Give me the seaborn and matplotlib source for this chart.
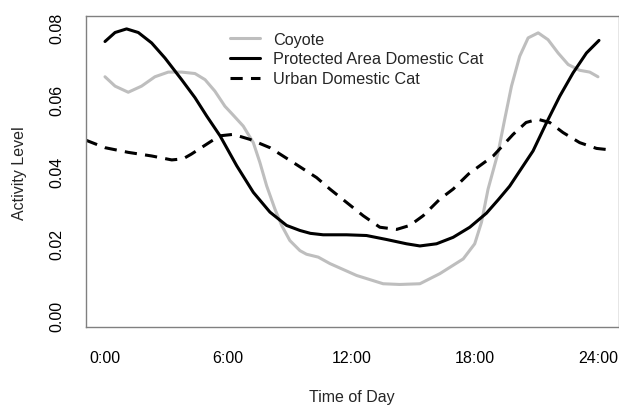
import matplotlib
matplotlib.use('Agg')
import matplotlib.pyplot as plt
import seaborn as sns

# 数据
coyote_h = [0, 0.49, 1.13, 1.78, 2.43, 3.08, 3.73, 4.38, 4.87, 5.35, 5.84, 6.2, 6.73, 7.22,
            7.54, 7.87, 8.27, 8.6, 9.0, 9.49, 9.81, 10.38, 10.95, 12.25, 13.54, 14.35, 15.33,
            16.3, 17.44, 18.0, 18.33, 18.65, 19.14, 19.46, 19.79, 20.19, 20.6, 21.09, 21.57,
            22.06, 22.55, 23.11, 23.6, 24.0]
coyote_v = [0.0664, 0.0638, 0.0621, 0.0638, 0.0664, 0.0677, 0.0677, 0.0673, 0.0656, 0.0624,
            0.0582, 0.0560, 0.0527, 0.0481, 0.0426, 0.0361, 0.0297, 0.0251, 0.0209, 0.0181,
            0.0171, 0.0163, 0.0145, 0.0112, 0.0089, 0.0087, 0.0089, 0.0117, 0.0158, 0.0200,
            0.0260, 0.0352, 0.0454, 0.0546, 0.0638, 0.0721, 0.0772, 0.0786, 0.0767, 0.0730,
            0.0698, 0.0682, 0.0677, 0.0664]

protected_h = [0, 0.49, 1.05, 1.62, 2.27, 2.92, 3.73, 4.38, 4.95, 5.6, 6.41, 7.22, 8.03, 8.84,
               9.49, 10.0, 10.62, 11.76, 12.73, 13.7, 14.68, 15.33, 16.14, 16.95, 17.76, 18.57,
               19.14, 19.7, 20.2, 20.84, 21.5, 22.14, 22.79, 23.44, 24.05]
protected_v = [0.0762, 0.0787, 0.0797, 0.0787, 0.0758, 0.0716, 0.0656, 0.0606, 0.0555, 0.0500,
               0.0417, 0.0343, 0.0288, 0.0251, 0.0237, 0.0229, 0.0225, 0.0225, 0.0223, 0.0212,
               0.0200, 0.0194, 0.0200, 0.0218, 0.0246, 0.0285, 0.0322, 0.0360, 0.0403, 0.0458,
               0.0537, 0.0610, 0.0675, 0.0730, 0.0765]

urban_h = [-0.94, 0, 1.13, 2.27, 3.25, 3.8, 4.2, 5.2, 5.6, 6.24, 7.06, 8.03, 9.16, 10.3, 10.95,
           11.76, 12.57, 13.38, 14.2, 14.84, 15.49, 16.3, 16.95, 17.7, 18.9, 19.87, 20.5, 21.07,
           21.65, 22.3, 23.11, 23.93, 24.57]
urban_v = [0.0488, 0.0467, 0.0454, 0.0444, 0.0433, 0.0436, 0.0449, 0.0486, 0.0500, 0.0504,
           0.0490, 0.0467, 0.0426, 0.0384, 0.0352, 0.0315, 0.0278, 0.0246, 0.0240, 0.0251,
           0.0278, 0.0324, 0.0352, 0.0394, 0.0444, 0.0504, 0.0537, 0.0546, 0.0537, 0.0509,
           0.0481, 0.0465, 0.0461]

x_ticks = [0, 6, 12, 18, 24]
x_labels = ['0:00', '6:00', '12:00', '18:00', '24:00']
y_ticks = [0.00, 0.02, 0.04, 0.06, 0.08]
y_labels = ['0.00', '0.02', '0.04', '0.06', '0.08']

sns.set_style('white')
plt.rcParams['font.family'] = ['Liberation Sans', 'DejaVu Sans']

fig = plt.figure(figsize=(6.19, 4.06), dpi=100)
ax = fig.add_axes([85.7 / 619, (406 - 328.3) / 406, (618.5 - 85.7) / 619, (328.3 - 17.3) / 406])

sns.lineplot(x=coyote_h, y=coyote_v, ax=ax, color='#BEBEBE', lw=2.2, label='Coyote')
sns.lineplot(x=protected_h, y=protected_v, ax=ax, color='black', lw=2.2,
             label='Protected Area Domestic Cat')
sns.lineplot(x=urban_h, y=urban_v, ax=ax, color='black', lw=2.2, linestyle=(0, (4, 2.7)),
             label='Urban Domestic Cat')
for ln in ax.get_lines():
    ln.set_solid_joinstyle('round')
    ln.set_dash_joinstyle('round')

ax.set_xlim(-0.94, 25.0)
ax.set_ylim(-0.0032, 0.0832)
ax.set_xticks(x_ticks)
ax.set_xticklabels(x_labels)
ax.set_yticks(y_ticks)
ax.set_yticklabels(y_labels, rotation=90, va='center')

for s in ax.spines.values():
    s.set_visible(True)
    s.set_color('#808080')
    s.set_linewidth(1.0)

ax.tick_params(axis='both', direction='out', length=7.5, width=1.0, color='#808080',
               labelsize=11.5, labelcolor='black')
ax.tick_params(axis='x', pad=9.2)
ax.tick_params(axis='y', pad=7.5)

ax.set_xlabel('Time of Day', fontsize=11.5, labelpad=17)
ax.set_ylabel('Activity Level', fontsize=11.5, labelpad=16.5)

leg = ax.legend(loc='upper left', bbox_to_anchor=(0.2708, 0.951), frameon=False,
                fontsize=11.7, handlelength=1.85, handletextpad=0.8, labelspacing=0.3,
                borderpad=0, borderaxespad=0)

fig.savefig('out.png', dpi=100)
